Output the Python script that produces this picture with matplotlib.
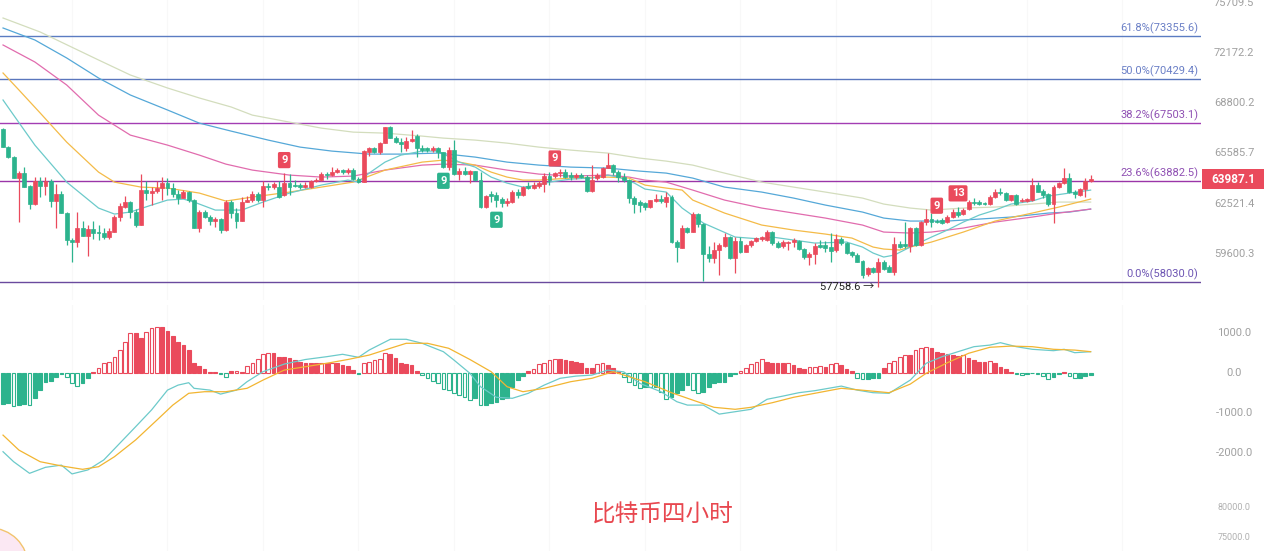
import matplotlib.pyplot as plt
from matplotlib.patches import Rectangle, Ellipse
from matplotlib.transforms import blended_transform_factory

# 字体：数字用 Roboto，中文回退到 Noto Sans CJK SC
plt.rcParams['font.family'] = ['Roboto', 'Noto Sans CJK SC', 'DejaVu Sans']

# ---- K线数据（4小时）----
opens = [67120, 66010, 65380, 64080, 64350, 63600, 62470, 63880, 63600, 63900,
         62670, 63090, 61940, 60380, 60290, 61060, 60630, 61020, 60860, 60770,
         60580, 60830, 61740, 62340, 62590, 62040, 61260, 63340, 63130, 63270,
         63480, 63740, 63440, 63070, 62830, 63190, 62730, 61100, 62040, 61740,
         61490, 61610, 60960, 62590, 61940, 61490, 62590, 62730, 63090, 62730,
         63600, 63540, 63540, 63030, 63740, 63640, 63640, 63540, 63540, 63880,
         63940, 64290, 64250, 64450, 64550, 64410, 64550, 64000, 63800, 65690,
         65940, 65650, 66260, 67280, 66580, 66320, 65940, 66370, 66700, 65900,
         65900, 65780, 65900, 65650, 64760, 65800, 64290, 64490, 64290, 64490,
         63940, 62340, 63070, 63030, 62790, 62530, 62590, 63230, 63030, 63600,
         63480, 63600, 63680, 64210, 64210, 64350, 64450, 64250, 64140, 64250,
         64140, 63270, 64040, 64140, 64700, 64860, 64450, 64140, 63940, 62870,
         62590, 62530, 62340, 62670, 62790, 62590, 62930, 60250, 59940, 61060,
         60860, 61880, 61290, 59560, 59340, 59810, 60060, 60580, 59340, 60330,
         59720, 60100, 60330, 60440, 60380, 60860, 60190, 60060, 60210, 60250,
         60330, 59870, 59430, 59560, 60100, 60100, 60000, 59810, 60440, 60190,
         59680, 59530, 59190, 58440, 58810, 58590, 59150, 58870, 58590, 60140,
         60140, 60060, 61100, 60100, 61410, 61610, 61490, 61550, 61410, 61740,
         62040, 61880, 62200, 62630, 62590, 62530, 62470, 62930, 63230, 63130,
         62730, 63030, 62670, 62670, 62730, 63640, 63270, 63070, 62470, 63540,
         63740, 64040, 63190, 63030, 63400, 63880]
highs = [67210, 66070, 65440, 64490, 64760, 63640, 64140, 64140, 64140, 63980,
         63680, 63270, 62000, 60480, 62000, 61490, 61250, 61490, 61250, 61060,
         61060, 61840, 62530, 62990, 62670, 62200, 64290, 63880, 63540, 63880,
         64140, 64080, 63740, 63340, 63340, 63270, 62790, 62140, 62140, 61840,
         61740, 61680, 62730, 62730, 62240, 62930, 62990, 63270, 63190, 63880,
         63740, 63840, 63880, 64350, 64290, 63940, 63740, 63840, 63940, 64040,
         64410, 64410, 64760, 64700, 64610, 64660, 64660, 64140, 65800, 66010,
         66010, 66320, 67280, 67320, 66700, 66530, 66640, 67060, 66790, 66110,
         66010, 66070, 66010, 65690, 66010, 66430, 64660, 64760, 64550, 64490,
         64450, 63030, 63270, 63190, 62930, 62830, 63340, 63400, 63600, 63800,
         63840, 63880, 64350, 64410, 64450, 64610, 64610, 64410, 64350, 64350,
         64250, 64860, 64350, 64760, 65590, 64900, 64550, 64350, 64000, 62990,
         62730, 62590, 62730, 63070, 63030, 63190, 63030, 60380, 61260, 61160,
         62000, 61940, 61350, 60060, 60290, 60190, 60770, 60630, 60580, 60580,
         60140, 60380, 60580, 60630, 60960, 60900, 60330, 60380, 60330, 60520,
         60380, 59940, 59720, 60190, 60380, 60330, 60770, 60710, 60580, 60290,
         59750, 59620, 59240, 58870, 58870, 59380, 59240, 58960, 60580, 60330,
         61410, 61160, 61140, 61490, 62200, 61940, 61610, 61650, 61840, 62200,
         62340, 62240, 62730, 62830, 62730, 62630, 63030, 63400, 63440, 63190,
         63030, 63070, 62830, 62870, 64040, 63840, 63400, 63130, 63640, 63840,
         64700, 64350, 63340, 63480, 64040, 64250]
lows = [65960, 65280, 64040, 61410, 63540, 62200, 62440, 62930, 63030, 62340,
        61100, 61940, 60100, 59150, 60000, 60630, 59490, 60440, 60380, 60440,
        60440, 60830, 61490, 62240, 61650, 61160, 61260, 62730, 62440, 63130,
        62730, 63030, 62930, 62470, 62830, 62590, 61060, 60830, 61650, 61260,
        61160, 60770, 60900, 61650, 61100, 61490, 62590, 62630, 62590, 62340,
        63340, 63400, 62870, 62990, 63030, 63540, 63400, 63440, 63480, 63800,
        63880, 64000, 64210, 64350, 64290, 64290, 63940, 63740, 63800, 65440,
        65590, 65530, 66220, 66580, 66220, 65690, 65730, 66320, 65380, 65650,
        65690, 65650, 65320, 64700, 64550, 64250, 63940, 64250, 63740, 63880,
        62280, 62240, 62590, 62340, 62340, 62400, 62530, 62870, 62990, 63400,
        63400, 63440, 63190, 63640, 64040, 64140, 64040, 63940, 64000, 64040,
        63230, 63230, 63940, 64080, 64660, 64250, 63840, 63840, 62530, 61940,
        62040, 62140, 62280, 62630, 62530, 62340, 60190, 59150, 59900, 60770,
        60830, 61160, 58070, 59150, 59060, 58400, 60000, 59300, 58500, 59620,
        59680, 60000, 60290, 60330, 60330, 60100, 59900, 59940, 59810, 60000,
        59810, 59300, 58960, 59000, 59900, 59720, 59150, 59720, 60100, 59560,
        59430, 59110, 58220, 58370, 58500, 57758.6, 58680, 58550, 58400, 59900,
        59900, 59720, 60060, 60060, 61260, 61160, 61350, 61290, 61350, 61680,
        61740, 61840, 62140, 62440, 62440, 62440, 62440, 62870, 63030, 62670,
        62670, 62440, 62590, 62630, 62670, 63190, 62870, 62400, 61350, 63480,
        63680, 63130, 62830, 62990, 62930, 63840]
closes = [66010, 65380, 64080, 64350, 63540, 62470, 63880, 63600, 63900, 62670,
          63090, 61940, 60380, 60290, 61060, 60630, 61020, 60770, 60770, 60580,
          60900, 61740, 62400, 62590, 62000, 61260, 63340, 63130, 63270, 63480,
          63740, 63440, 63070, 62830, 63190, 62730, 61100, 62040, 61740, 61490,
          61610, 60960, 62590, 61940, 61490, 62590, 62730, 63090, 62730, 63600,
          63540, 63680, 62930, 63740, 63540, 63600, 63540, 63640, 63880, 63940,
          64290, 64250, 64450, 64550, 64450, 64550, 64000, 63800, 65730, 65900,
          65650, 66260, 67280, 66580, 66320, 66150, 66370, 66490, 65900, 65800,
          65780, 65900, 65650, 64760, 65800, 64290, 64490, 64290, 64490, 63940,
          62340, 62990, 62990, 62730, 62530, 62670, 63190, 63030, 63540, 63440,
          63640, 63740, 64210, 63940, 64350, 64450, 64140, 64140, 64250, 64140,
          63270, 63940, 64250, 64700, 64860, 64450, 64140, 63940, 62830, 62470,
          62440, 62340, 62730, 62790, 62670, 62930, 60250, 60000, 61060, 60860,
          61880, 61290, 59560, 59340, 59810, 60100, 60580, 59340, 60330, 59720,
          60100, 60330, 60520, 60580, 60860, 60190, 60000, 60290, 60290, 60380,
          59870, 59430, 59560, 60040, 60000, 59940, 59750, 60440, 60190, 59620,
          59530, 59150, 58400, 58770, 58590, 59150, 58740, 58590, 60140, 60000,
          60060, 61100, 60100, 61410, 61610, 61450, 61410, 61350, 61740, 62040,
          61840, 62140, 62590, 62530, 62470, 62470, 62930, 63230, 63130, 62730,
          63030, 62470, 62730, 62790, 63640, 63230, 63030, 62470, 63540, 63740,
          64080, 63190, 63070, 63400, 63880, 63987.1]

# ---- 均线（读取的采样点：K线序号, 价格）----
ma1_idx = [0, 2, 6, 12, 18, 21, 24, 28, 31, 34, 36, 40, 45, 49, 54, 60, 65, 67, 69, 72,
           75, 79, 82, 86, 89, 92, 95, 98, 101, 103, 107, 111, 114, 116, 119, 121, 125,
           128, 132, 135, 138, 143, 145, 149, 153, 159, 162, 164, 166, 168, 171, 175,
           178, 181, 184, 187, 190, 194, 197, 201, 205]
ma1_val = [69011, 68022, 66104, 63812, 62251, 61896, 62014, 62429, 62727, 62787, 62608,
           62132, 62132, 62608, 63148, 63630, 63934, 63812, 64362, 65041, 65477, 65727,
           65727, 65041, 64731, 64118, 63752, 63509, 63630, 63812, 63995, 64056, 64240,
           64118, 63752, 63389, 63208, 62251, 61367, 60958, 60553, 60438, 60553, 60380,
           60207, 60265, 59978, 59636, 59409, 59522, 59978, 60553, 60958, 61425, 61836,
           62132, 62489, 62668, 62968, 63148, 63328]
ma2_idx = [0, 3, 7, 12, 18, 21, 26, 31, 37, 42, 47, 54, 60, 66, 72, 79, 83, 86, 89, 92,
           95, 98, 101, 107, 114, 118, 121, 125, 128, 130, 136, 143, 149, 155, 160, 164,
           166, 169, 171, 175, 181, 187, 194, 199, 205]
ma2_val = [70811, 69672, 68161, 66293, 64424, 63812, 63509, 63449, 63148, 62668, 62908,
           63208, 63509, 63812, 64547, 65041, 65165, 65041, 64855, 64424, 64118, 63934,
           63934, 64056, 64118, 64056, 63630, 63449, 63328, 62727, 61955, 61250, 60958,
           60726, 60495, 59978, 59864, 59807, 59978, 60265, 60842, 61484, 61955, 62310,
           62787]
ma3_idx = [0, 6, 12, 18, 24, 31, 37, 42, 47, 54, 60, 66, 72, 79, 83, 89, 95, 101, 107,
           114, 118, 121, 125, 130, 136, 143, 149, 155, 162, 166, 171, 175, 181, 187,
           194, 199, 205]
ma3_val = [72729, 71559, 70006, 68022, 66737, 66104, 65477, 64917, 64547, 64240, 64118,
           64179, 64547, 64855, 64917, 64855, 64547, 64301, 64179, 64240, 64118, 63934,
           63812, 63328, 62727, 62251, 61955, 61660, 61250, 60842, 60784, 60842, 61075,
           61425, 61719, 61955, 62191]
ma4_idx = [0, 6, 12, 18, 24, 31, 37, 43, 50, 56, 62, 69, 75, 82, 89, 95, 101, 107, 114,
           120, 125, 130, 136, 143, 149, 155, 162, 166, 171, 178, 184, 190, 197, 201, 205]
ma4_val = [73918, 73077, 71833, 70474, 69340, 68356, 67505, 66992, 66420, 65978, 65727,
           65539, 65539, 65602, 65352, 65041, 64855, 64731, 64670, 64485, 64362, 64056,
           63509, 63208, 62847, 62429, 62014, 61660, 61484, 61484, 61601, 61719, 61955,
           62014, 62191]
ma5_idx = [0, 7, 18, 24, 31, 37, 43, 47, 54, 60, 66, 72, 79, 83, 89, 95, 101, 107, 114,
           120, 125, 130, 136, 143, 149, 155, 162, 166, 171, 175, 181, 187, 194, 199, 205]
ma5_val = [74626, 73636, 71696, 70676, 69806, 69143, 68552, 68022, 67569, 67184, 66928,
           66864, 66674, 66547, 66420, 66230, 65978, 65790, 65602, 65290, 65103, 64855,
           64362, 63812, 63509, 63208, 62847, 62489, 62251, 62132, 62251, 62310, 62489,
           62608, 62608]

# ---- 斐波那契回撤 ----
fib_pcts = ['61.8%', '50.0%', '38.2%', '23.6%', '0.0%']
fib_prices = [73355.6, 70429.4, 67503.1, 63882.5, 58030.0]
price_ticks = [75709.5, 72172.2, 68800.2, 65585.7, 62521.4, 59600.3]
last_price = 63987.1
low_idx = 165
low_price = 57758.6

# 九转序列标记：K线序号, 数字, 方向
td_idx = [53, 104, 176, 180, 83, 93]
td_text = ['9', '9', '9', '13', '9', '9']
td_side = ['up', 'up', 'up', 'up', 'down', 'down']

# ---- MACD ----
macd_hist = [-790, -750, -830, -810, -790, -810, -620, -430, -225, -200,
             -100, -35, -100, -250, -330, -250, -140, 25, 110, 250,
             275, 400, 565, 775, 980, 980, 860, 1025, 1110, 1150,
             1130, 1050, 915, 775, 690, 565, 250, 165, 85, 25,
             10, -35, -115, 40, 50, 25, 165, 250, 330, 465,
             500, 480, 400, 385, 360, 315, 275, 235, 235, 235,
             250, 235, 250, 235, 190, 165, 65, -35, 250, 275,
             315, 330, 480, 465, 360, 250, 215, 190, 40, -60,
             -140, -200, -250, -415, -430, -500, -560, -615, -680, -640,
             -810, -810, -750, -725, -665, -640, -365, -185, -85, 40,
             85, 215, 250, 315, 330, 330, 315, 300, 275, 250,
             110, 110, 215, 235, 190, 110, 50,
             -100, -225, -310, -390, -350, -365, -365, -475, -665, -600,
             -515, -430, -310, -430, -515, -475, -365, -265, -225, -225,
             -85, -35, 50, 110, 215, 275, 330, 275, 250, 250,
             235, 250, 190, 110, 85, 135, 150, 165, 150, 215,
             235, 190, 85, 50, -140, -165, -165, -140, -140, 110,
             235, 300, 400, 440, 440, 565, 610, 635, 610, 525,
             500, 465, 440, 415, 440, 360, 315, 275, 275, 300,
             250, 150, 85, 25, -35, -60, -35, -20, -35, -85,
             -165, -100, -35, 25, -85, -140, -140, -85, -60]
dif_idx = [0, 2, 5, 8, 11, 13, 16, 19, 22, 25, 28, 31, 33, 35, 36, 39, 41, 44, 46, 49,
           53, 57, 61, 64, 67, 69, 73, 76, 79, 83, 85, 88, 90, 93, 96, 99, 102, 105,
           108, 111, 114, 117, 120, 124, 127, 129, 132, 135, 138, 141, 144, 147, 150,
           153, 158, 161, 164, 167, 171, 174, 177, 180, 183, 186, 188, 191, 194, 198,
           200, 202, 205]
dif_val = [-1975, -2225, -2515, -2365, -2310, -2530, -2430, -2180, -1765, -1350, -930,
           -435, -310, -250, -390, -435, -535, -435, -225, 25, 215, 330, 400, 460, 385,
           565, 835, 835, 735, 525, 315, -15, -350, -615, -640, -515, -310, -140, -85,
           -60, 65, 20, -265, -475, -725, -810, -810, -1035, -975, -915, -665, -585,
           -500, -450, -335, -435, -500, -515, -185, 235, 400, 525, 650, 690, 750, 650,
           585, 550, 585, 500, 525]
dea_idx = [0, 3, 7, 11, 15, 18, 21, 25, 29, 32, 35, 38, 42, 46, 49, 53, 57, 61, 65, 69,
           73, 76, 80, 84, 88, 92, 95, 98, 102, 107, 111, 115, 121, 126, 130, 134, 138,
           141, 145, 149, 153, 158, 163, 167, 171, 174, 178, 182, 186, 190, 194, 198,
           202, 205]
dea_val = [-1560, -1935, -2225, -2330, -2415, -2350, -2100, -1680, -1185, -810, -515,
           -475, -475, -390, -185, 65, 150, 235, 330, 440, 610, 735, 735, 610, 330, 25,
           -350, -475, -390, -225, -140, 25, -225, -500, -685, -865, -915, -865, -750,
           -615, -515, -390, -450, -500, -285, -15, 250, 485, 635, 665, 650, 585, 565,
           525]
macd_ticks = [1000, 0, -1000, -2000]
bottom_ticks = [80000, 75000]
title = '比特币四小时'

UP = '#ea4a5c'
DOWN = '#2cb38d'
TICK_GRAY = '#a0a0a0'
W, H = 1264, 551


def draw_candles(ax):
    x = range(len(closes))
    colors = [UP if c >= o else DOWN for o, c in zip(opens, closes)]
    ax.vlines(x, lows, highs, colors=colors, lw=0.9, zorder=3)
    bottoms = [min(o, c) for o, c in zip(opens, closes)]
    heights = [abs(c - o) for o, c in zip(opens, closes)]
    ax.bar(x, heights, bottom=bottoms, width=0.74, color=colors,
           edgecolor=colors, linewidth=0.5, zorder=4)


def right_labels(ax, values, texts, size=8, color=TICK_GRAY):
    trans = blended_transform_factory(ax.transAxes, ax.transData)
    for v, t in zip(values, texts):
        ax.text(1234 / 1201, v, t, transform=trans, ha='center', va='center',
                fontsize=size, color=color, clip_on=False)


fig = plt.figure(figsize=(W / 100, H / 100), dpi=100)
ax = fig.add_axes([0, 251 / H, 1201 / W, 300 / H])
ax_m = fig.add_axes([0, 61 / H, 1201 / W, 185 / H])
ax_b = fig.add_axes([0, 0, 1201 / W, 61 / H])

for a in (ax, ax_m, ax_b):
    a.set_axis_off()
    a.set_xlim(-0.57, 225.8)
    for gx in range(13, 226, 18):
        a.axvline(gx, color='#f8f8f8', lw=0.8, zorder=0)

# 主图
ax.set_yscale('log')
ax.set_ylim(57024, 75918)

fib_line_colors = ['#5b7cc2', '#5a76bd', '#a33db3', '#9a35a8', '#6a4a9e']
fib_text_colors = ['#6a7fc6', '#6a7fc6', '#8f50b3', '#8f50b3', '#6d55b3']
trans_main = blended_transform_factory(ax.transAxes, ax.transData)
for pct, p, lc, tc in zip(fib_pcts, fib_prices, fib_line_colors, fib_text_colors):
    ax.axhline(p, color=lc, lw=1.0, zorder=1)
    ax.annotate(f'{pct}({p:.1f})', xy=(0.998, p), xycoords=trans_main,
                xytext=(0, 1.5), textcoords='offset points', ha='right', va='bottom',
                fontsize=8, color=tc)

ax.plot(ma5_idx, ma5_val, color='#d3ddbd', lw=0.9, zorder=2)
ax.plot(ma4_idx, ma4_val, color='#55a8d8', lw=0.9, zorder=2)
ax.plot(ma3_idx, ma3_val, color='#e16cae', lw=0.9, zorder=2)
ax.plot(ma2_idx, ma2_val, color='#f4bb48', lw=0.9, zorder=2)
ax.plot(ma1_idx, ma1_val, color='#6ccaca', lw=0.9, zorder=2)

draw_candles(ax)

for i, t, side in zip(td_idx, td_text, td_side):
    if side == 'up':
        xy, dy, fc = (i, highs[i]), 9.5, UP
    else:
        xy, dy, fc = (i, lows[i]), -9.5, DOWN
    ax.annotate(t, xy=xy, xytext=(0, dy), textcoords='offset points', ha='center',
                va='center', fontsize=8, fontweight='bold', color='white', zorder=6,
                bbox=dict(boxstyle='round,pad=0.28,rounding_size=0.15', fc=fc, ec='none'))

ax.annotate(f'{low_price:.1f} →', xy=(low_idx, low_price), xytext=(-3, 0),
            textcoords='offset points', ha='right', va='center', fontsize=8,
            color='#222222')

right_labels(ax, price_ticks, [f'{p:.1f}' for p in price_ticks])

# 最新价红色标签
y_disp = ax.transData.transform((0, last_price))[1]
fig.add_artist(Rectangle((1202 / W, (y_disp - 10) / H), 62 / W, 20 / H,
                         transform=fig.transFigure, fc=UP, ec='none'))
fig.text(1233 / W, y_disp / H, f'{last_price:.1f}', ha='center', va='center',
         fontsize=8.5, fontweight='bold', color='white')

# MACD
ax_m.set_ylim(-2932, 1692)
hist_faces, hist_edges = [], []
for i, h in enumerate(macd_hist):
    col = UP if h >= 0 else DOWN
    grow = i > 0 and abs(h) > abs(macd_hist[i - 1])
    hist_edges.append(col)
    hist_faces.append('white' if grow else col)
ax_m.bar(range(len(macd_hist)), macd_hist, width=0.7, color=hist_faces,
         edgecolor=hist_edges, linewidth=0.8, zorder=2)
ax_m.plot(dif_idx, dif_val, color='#6ccaca', lw=0.9, zorder=3)
ax_m.plot(dea_idx, dea_val, color='#f2b531', lw=0.9, zorder=3)
right_labels(ax_m, macd_ticks, [f'{v:.1f}' for v in macd_ticks])

# 底部面板
ax_b.set_ylim(72833, 83000)
right_labels(ax_b, bottom_ticks, [f'{v:.1f}' for v in bottom_ticks], size=6.5,
             color='#b0b0b0')
fig.add_artist(Ellipse((-10 / W, (H - 566) / H), 76 / W, 76 / H,
                       transform=fig.transFigure, fc='#fbe8f3', ec='#f2c46e', lw=1))
fig.text(663 / W, (H - 515) / H, title, ha='center', va='center', fontsize=17,
         fontweight='light', color='#e8474f', family=['Noto Sans CJK SC', 'DejaVu Sans'])

fig.savefig('out.png', dpi=100)
